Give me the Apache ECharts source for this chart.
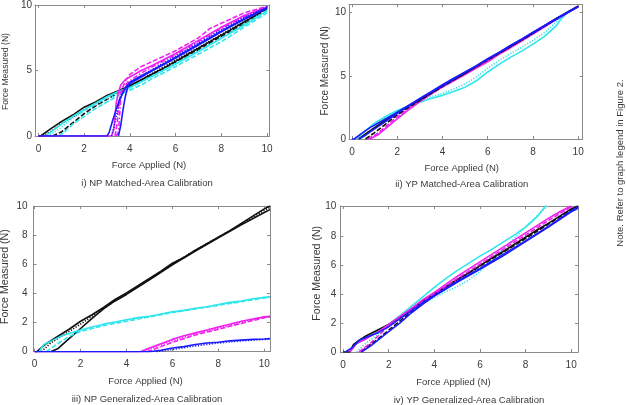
<!DOCTYPE html>
<html><head><meta charset="utf-8">
<script src="https://cdn.jsdelivr.net/npm/echarts@6/dist/echarts.min.js"></script>
<style>html,body{margin:0;padding:0;background:#fff}#c{width:626px;height:405px}</style>
</head><body><div id="c"></div>
<script>
// ---------- tick labels ----------
const xTicks = [0, 2, 4, 6, 8, 10];
const yTicksA = [0, 5, 10];
const yTicksB = [0, 2, 4, 6, 8, 10];
const titles = ['i) NP Matched-Area Calibration', 'ii) YP Matched-Area Calibration',
                'iii) NP Generalized-Area Calibration', 'iv) YP Generalized-Area Calibration'];
const xName = 'Force Applied (N)';
const yName = 'Force Measured (N)';
const note = 'Note. Refer to graph legend in Figure 2.';

// ---------- plot i : NP matched-area ----------
const p1_black_a = [[0,0],[0.1,0],[0.5,0.5],[1,1.1],[1.5,1.6],[2,2.2],[2.5,2.6],[3,3.1],[3.5,3.45],[4,3.85],[4.5,4.3],[5,4.75],[5.5,5.2],[6,5.7],[6.5,6.2],[7,6.7],[7.5,7.2],[8,7.7],[8.5,8.2],[9,8.7],[9.5,9.2],[10,9.8]];
const p1_black_b = [[0,0],[0.6,0],[1,0.3],[1.5,1.0],[2,1.7],[2.5,2.3],[3,2.8],[3.5,3.3],[4,3.75],[5,4.7],[6,5.65],[7,6.6],[8,7.6],[9,8.6],[10,9.7]];
const p1_black_c = [[0.2,0],[0.6,0.4],[1,0.95],[1.5,1.45],[2,2.0],[2.5,2.5],[3,3.0],[3.5,3.4],[4,3.8],[5,4.8],[6,5.8],[7,6.75],[8,7.75],[9,8.75],[10,9.75]];
const p1_cyan_a = [[0.3,0],[0.7,0.5],[1,0.9],[1.5,1.5],[2,2.0],[2.5,2.5],[3,3.0],[3.5,3.4],[4,3.7],[5,4.6],[6,5.5],[7,6.45],[8,7.45],[9,8.45],[10,9.55]];
const p1_cyan_b = [[0.9,0],[1.2,0.4],[1.5,0.9],[2,1.5],[2.5,2.1],[3,2.6],[3.5,3.1],[4,3.5],[4.5,3.9],[5,4.4],[6,5.3],[7,6.25],[8,7.2],[9,8.3],[10,9.4]];
const p1_cyan_c = [[0.4,0],[0.8,0.4],[1.3,1.1],[2,1.9],[3,2.85],[4,3.65],[5,4.55],[6,5.55],[7,6.5],[8,7.5],[9,8.55],[10,9.6]];
const p1_mag_a = [[0,0],[3.2,0],[3.3,0.5],[3.35,1.5],[3.4,2.5],[3.5,3.3],[3.6,3.9],[3.8,4.3],[4,4.5],[4.5,5.0],[5,5.4],[6,6.3],[7,7.3],[8,8.3],[9,9.2],[10,9.85]];
const p1_mag_b = [[3.35,0],[3.45,1],[3.5,2.2],[3.6,3.3],[3.8,4.2],[4,4.7],[4.5,5.3],[5,5.7],[6,6.5],[7,7.5],[7.5,8.2],[8,8.6],[8.5,9.0],[9,9.4],[10,9.9]];
const p1_mag_c = [[3.4,0],[3.5,0.3],[3.55,1.5],[3.6,2.8],[3.7,3.6],[3.9,4.1],[4.5,4.8],[5,5.3],[6,6.2],[7,7.2],[8,8.2],[9,9.1],[10,9.8]];
const p1_blue_a = [[0,0],[3.0,0],[3.1,0.3],[3.25,1.2],[3.4,2.0],[3.55,2.8],[3.7,3.3],[3.85,3.8],[4,4.1],[4.5,4.6],[5,5.05],[6,6.0],[7,7.0],[8,8.0],[9,8.95],[10,9.8]];
const p1_blue_b = [[3.5,0],[3.6,0.8],[3.7,2.0],[3.8,3.0],[3.9,3.7],[4,4.0],[5,5.0],[6,5.95],[7,6.95],[8,7.95],[9,8.9],[10,9.75]];
const p1_blue_c = [[3.2,0],[3.35,1.0],[3.5,2.3],[3.65,3.2],[3.8,3.7],[4,4.05],[5,5.1],[6,6.1],[7,7.1],[8,8.1],[9,9.05],[10,9.85]];

// ---------- plot ii : YP matched-area ----------
const p2_black_a = [[0.3,0],[0.6,0.4],[1,0.9],[1.5,1.5],[2,2.1],[3,3.1],[4,4.2],[5,5.2],[6,6.3],[7,7.3],[8,8.4],[9,9.5],[10,10.5]];
const p2_black_b = [[0.6,0],[1,0.5],[1.5,1.2],[2,1.9],[2.5,2.5],[3,3.05],[4,4.15],[5,5.2],[6,6.25],[7,7.3],[8,8.35],[9,9.45],[10,10.5]];
const p2_mag_a = [[0.8,0],[1.2,0.4],[1.6,1.0],[2,1.6],[2.5,2.3],[3,2.95],[3.5,3.55],[4,4.1],[4.5,4.6],[5,5.1],[5.5,5.6],[6,6.1],[6.5,6.7],[7,7.2],[7.5,7.75],[8,8.3],[8.5,8.85],[9,9.4],[9.5,9.95],[10,10.45]];
const p2_mag_b = [[0.7,0],[1.1,0.4],[1.5,1.0],[2,1.75],[2.5,2.4],[3,3.0],[4,4.15],[5,5.2],[6,6.2],[7,7.3],[8,8.35],[9,9.45],[10,10.5]];
const p2_cyan_a = [[0.2,0],[0.5,0.5],[1,1.25],[1.5,1.8],[2,2.25],[2.5,2.6],[3,2.9],[3.5,3.2],[4,3.45],[4.5,3.75],[5,4.1],[5.5,4.6],[6,5.3],[6.5,5.9],[7,6.45],[7.5,6.95],[8,7.5],[8.5,8.1],[9,8.9],[9.3,9.6],[9.6,10.1],[10,10.45]];
const p2_cyan_b = [[0.4,0],[0.8,0.6],[1.2,1.3],[1.6,1.8],[2,2.2],[2.5,2.6],[3,3.0],[3.5,3.35],[4,3.6],[4.5,3.95],[5,4.35],[5.5,4.9],[6,5.6],[6.5,6.2],[7,6.75],[7.5,7.25],[8,7.8],[8.5,8.4],[9,9.2],[9.4,9.9],[10,10.5]];
const p2_blue_a = [[0,0],[0.1,0],[0.4,0.4],[0.8,0.9],[1.2,1.3],[1.6,1.7],[2,2.1],[2.5,2.65],[3,3.2],[3.5,3.75],[4,4.3],[4.5,4.8],[5,5.3],[5.5,5.8],[6,6.35],[6.5,6.85],[7,7.4],[7.5,7.9],[8,8.45],[8.5,8.95],[9,9.5],[9.5,10.0],[10,10.5]];
const p2_blue_b = [[0.3,0],[0.6,0.3],[1,0.8],[1.5,1.4],[2,2.0],[2.5,2.6],[3,3.15],[4,4.2],[5,5.25],[6,6.3],[7,7.35],[8,8.4],[9,9.45],[10,10.45]];

// ---------- plot iii : NP generalized-area ----------
const p3_black_a = [[0,0],[0.1,0],[0.5,0.55],[1,1.05],[1.5,1.55],[2,2.1],[2.5,2.55],[3,3.05],[3.5,3.6],[4,4.05],[4.5,4.55],[5,5.05],[5.5,5.55],[6,6.1],[6.5,6.5],[7,7.0],[7.5,7.45],[8,7.9],[8.5,8.35],[9,8.85],[9.5,9.35],[10,9.85],[10.25,10.05]];
const p3_black_b = [[0.7,0],[1,0.2],[1.5,0.9],[2,1.6],[2.5,2.3],[3,2.95],[3.5,3.5],[4,3.95],[5,4.95],[6,6.0],[7,6.95],[8,7.85],[9,8.75],[10,9.6],[10.25,9.8]];
const p3_black_c = [[0.3,0],[0.7,0.6],[1.2,1.1],[2,1.9],[3,3.0],[4,4.0],[5,5.0],[6,6.05],[7,7.0],[8,7.9],[9,8.8],[10,9.75],[10.25,9.95]];
const p3_cyan_a = [[0.2,0],[0.4,0.5],[0.8,0.8],[1.2,1.1],[1.6,1.3],[2,1.5],[2.5,1.7],[3,1.9],[3.5,2.05],[4,2.2],[4.5,2.35],[5,2.45],[5.5,2.6],[6,2.75],[6.5,2.85],[7,3.0],[7.5,3.1],[8,3.25],[8.5,3.4],[9,3.5],[9.5,3.65],[10,3.75],[10.25,3.8]];
const p3_cyan_b = [[0.5,0],[1,0.55],[1.5,1.05],[2,1.4],[2.5,1.6],[3,1.8],[3.5,1.95],[4,2.1],[5,2.4],[6,2.7],[7,2.95],[8,3.2],[9,3.45],[10,3.7],[10.25,3.75]];
const p3_mag_a = [[0,0],[4.6,0],[5,0.25],[5.5,0.55],[6,0.85],[6.5,1.1],[7,1.3],[7.5,1.5],[8,1.7],[8.5,1.9],[9,2.1],[9.5,2.25],[10,2.4],[10.25,2.45]];
const p3_mag_b = [[4.9,0],[5.5,0.35],[6,0.65],[6.5,0.9],[7,1.15],[7.5,1.35],[8,1.55],[8.5,1.75],[9,1.95],[9.5,2.15],[10,2.35],[10.25,2.4]];
const p3_mag_c = [[4.7,0],[5.2,0.3],[6,0.75],[7,1.22],[8,1.62],[9,2.02],[10,2.38],[10.25,2.42]];
const p3_blue_a = [[0,0],[5,0],[5.5,0.1],[6,0.25],[6.5,0.35],[7,0.5],[7.5,0.6],[8,0.65],[8.5,0.75],[9,0.8],[9.5,0.85],[10,0.88],[10.25,0.9]];
const p3_blue_b = [[5.3,0],[6,0.15],[7,0.4],[8,0.6],[9,0.75],[10,0.85],[10.25,0.86]];

// ---------- plot iv : YP generalized-area ----------
const p4_black_a = [[0,0],[0.3,0],[0.45,0.5],[0.7,0.8],[1,1.1],[1.5,1.5],[2,1.9],[2.5,2.4],[3,2.95],[3.5,3.5],[4,4.0],[4.5,4.5],[5,5.0],[5.5,5.45],[6,5.95],[6.5,6.45],[7,6.9],[7.5,7.4],[8,7.9],[8.5,8.4],[9,8.85],[9.5,9.35],[10,9.85],[10.3,10.05]];
const p4_black_b = [[0.8,0],[1,0.3],[1.5,0.85],[2,1.5],[2.5,2.15],[3,2.8],[3.5,3.4],[4,3.95],[5,4.95],[6,5.9],[7,6.85],[8,7.8],[9,8.8],[10,9.8],[10.3,10]];
const p4_cyan_a = [[0.3,0],[0.5,0.5],[1,0.9],[1.5,1.4],[2,1.9],[2.5,2.5],[3,3.15],[3.5,3.8],[4,4.45],[4.5,5.05],[5,5.6],[5.5,6.1],[6,6.6],[6.5,7.05],[7,7.55],[7.5,8.05],[8,8.6],[8.5,9.3],[8.9,10.1]];
const p4_cyan_b = [[0.6,0],[1,0.6],[1.5,1.2],[2,1.8],[2.5,2.4],[3,2.9],[3.5,3.35],[4,3.75],[4.5,4.15],[5,4.5],[5.5,4.95],[6,5.55],[6.5,6.3],[7,7.05],[7.5,7.8],[8,8.6],[8.5,9.35],[9,10.1]];
const p4_mag_a = [[0.3,0],[0.6,0.6],[1,0.9],[1.5,1.35],[2,1.9],[2.5,2.45],[3,3.0],[3.5,3.6],[4,4.1],[4.5,4.65],[5,5.2],[5.5,5.7],[6,6.2],[6.5,6.7],[7,7.2],[7.5,7.7],[8,8.2],[8.5,8.7],[9,9.2],[9.5,9.65],[10,10.05]];
const p4_mag_b = [[0.7,0],[1.2,0.6],[1.8,1.5],[2.5,2.35],[3,2.9],[4,4.0],[5,5.05],[6,6.05],[7,7.05],[8,8.05],[9,9.05],[10,10.0]];
const p4_blue_a = [[0.1,0],[0.4,0.3],[0.7,0.8],[1,1.0],[1.5,1.3],[2,1.75],[2.5,2.3],[3,2.85],[3.5,3.4],[4,3.9],[5,4.85],[6,5.75],[7,6.7],[8,7.65],[9,8.65],[10,9.7],[10.3,10]];
const p4_blue_b = [[0.8,0],[1.2,0.4],[1.6,0.9],[2,1.4],[2.5,2.0],[3,2.7],[3.5,3.3],[4,3.85],[5,4.8],[6,5.7],[7,6.6],[8,7.6],[9,8.6],[10,9.65],[10.3,9.9]];

// ---------- styling / layout (not data) ----------
const C = {k:'#111111', c:'#2ee6ee', m:'#f020f0', b:'#1a1aff'};
const D = {s:'solid', d:[5,2], o:[1.2,1.6], dd:[5,2,1.5,2]};
const traces = [
  [[p1_black_a,'k','s'],[p1_black_b,'k','d'],[p1_black_c,'k','o'],[p1_cyan_a,'c','s'],[p1_cyan_b,'c','d'],[p1_cyan_c,'c','o'],
   [p1_mag_a,'m','s'],[p1_mag_b,'m','d'],[p1_mag_c,'m','dd'],[p1_blue_a,'b','s'],[p1_blue_b,'b','s'],[p1_blue_c,'b','o']],
  [[p2_cyan_a,'c','s'],[p2_cyan_b,'c','o'],[p2_mag_a,'m','s'],[p2_mag_b,'m','d'],[p2_black_a,'k','s'],[p2_black_b,'k','d'],
   [p2_blue_a,'b','s'],[p2_blue_b,'b','s']],
  [[p3_black_a,'k','s'],[p3_black_b,'k','s'],[p3_black_c,'k','o'],[p3_cyan_a,'c','s'],[p3_cyan_b,'c','d'],
   [p3_mag_a,'m','s'],[p3_mag_b,'m','d'],[p3_mag_c,'m','o'],[p3_blue_a,'b','s'],[p3_blue_b,'b','o']],
  [[p4_cyan_a,'c','s'],[p4_cyan_b,'c','o'],[p4_black_a,'k','s'],[p4_black_b,'k','d'],[p4_mag_a,'m','s'],[p4_mag_b,'m','d'],
   [p4_blue_a,'b','s'],[p4_blue_b,'b','s']]
];
const grids = [
  {left:35, top:2.5, width:234.3, height:133.5},
  {left:349, top:4.3, width:233.7, height:134.7},
  {left:33.5, top:206, width:236.5, height:145.7},
  {left:340.3, top:206, width:237.7, height:146}
];
const xR = [[-0.15,10.1],[-0.13,10.2],[-0.05,10.25],[-0.12,10.3]];
const yR = [[0,10],[0,10.65],[0,10.05],[0,10.05]];
const yT = [yTicksA, yTicksA, yTicksB, yTicksB];
const yLM = [3, 3, 6, 4];
const FONT = 'Liberation Sans, Arial, sans-serif';
const TXT = '#3a3a3a', AX = '#8a8a8a';

const xAxis = [], yAxis = [], series = [];
grids.forEach((g, i) => {
  [['bottom', true], ['top', false]].forEach(([pos, lab]) => xAxis.push({
    type:'value', gridIndex:i, position:pos, min:xR[i][0], max:xR[i][1],
    axisLine:{show:true, onZero:false, lineStyle:{color:AX, width:1}},
    axisTick:{show:true, inside:true, length:3, customValues:xTicks, lineStyle:{color:AX}},
    axisLabel:{show:lab, customValues:xTicks, margin:8, color:TXT, fontSize:10, fontFamily:FONT},
    splitLine:{show:false}
  }));
  [['left', true], ['right', false]].forEach(([pos, lab]) => yAxis.push({
    type:'value', gridIndex:i, position:pos, min:yR[i][0], max:yR[i][1],
    axisLine:{show:true, onZero:false, lineStyle:{color:AX, width:1}},
    axisTick:{show:true, inside:true, length:3, customValues:yT[i], lineStyle:{color:AX}},
    axisLabel:{show:lab, customValues:yT[i], margin:yLM[i], color:TXT, fontSize:10, fontFamily:FONT},
    splitLine:{show:false}
  }));
  traces[i].forEach(([data, col, dash]) => series.push({
    type:'line', xAxisIndex:2*i, yAxisIndex:2*i, data:data, symbol:'none', showSymbol:false,
    clip:true, silent:true, animation:false,
    lineStyle:{color:C[col], width:1.6, type:D[dash]}
  }));
});

const txt = (x, y, s, size, rot) => ({
  type:'text', x:x, y:y, rotation: rot ? Math.PI/2 : 0,
  style:{text:s, fill:TXT, font: size + 'px ' + FONT, textAlign:'center', textVerticalAlign:'middle'}
});
const graphic = [
  txt(149, 165, xName, 9.5), txt(147, 183, titles[0], 9.5), txt(6, 71.5, yName, 8.6, true),
  txt(461.7, 168, xName, 9.5), txt(461.7, 184, titles[1], 9.5), txt(325, 70.8, yName, 10, true),
  txt(145.5, 381, xName, 9.5), txt(147, 399, titles[2], 9.5), txt(5, 276.7, yName, 10.6, true),
  txt(453.5, 382.7, xName, 9.5), txt(469, 400, titles[3], 9.5), txt(317, 273.3, yName, 10.6, true),
  txt(620, 163, note, 9.5, true)
];

const chart = echarts.init(document.getElementById('c'), null, {renderer:'canvas'});
chart.setOption({animation:false, grid:grids, xAxis:xAxis, yAxis:yAxis, series:series, graphic:graphic});
</script></body></html>
